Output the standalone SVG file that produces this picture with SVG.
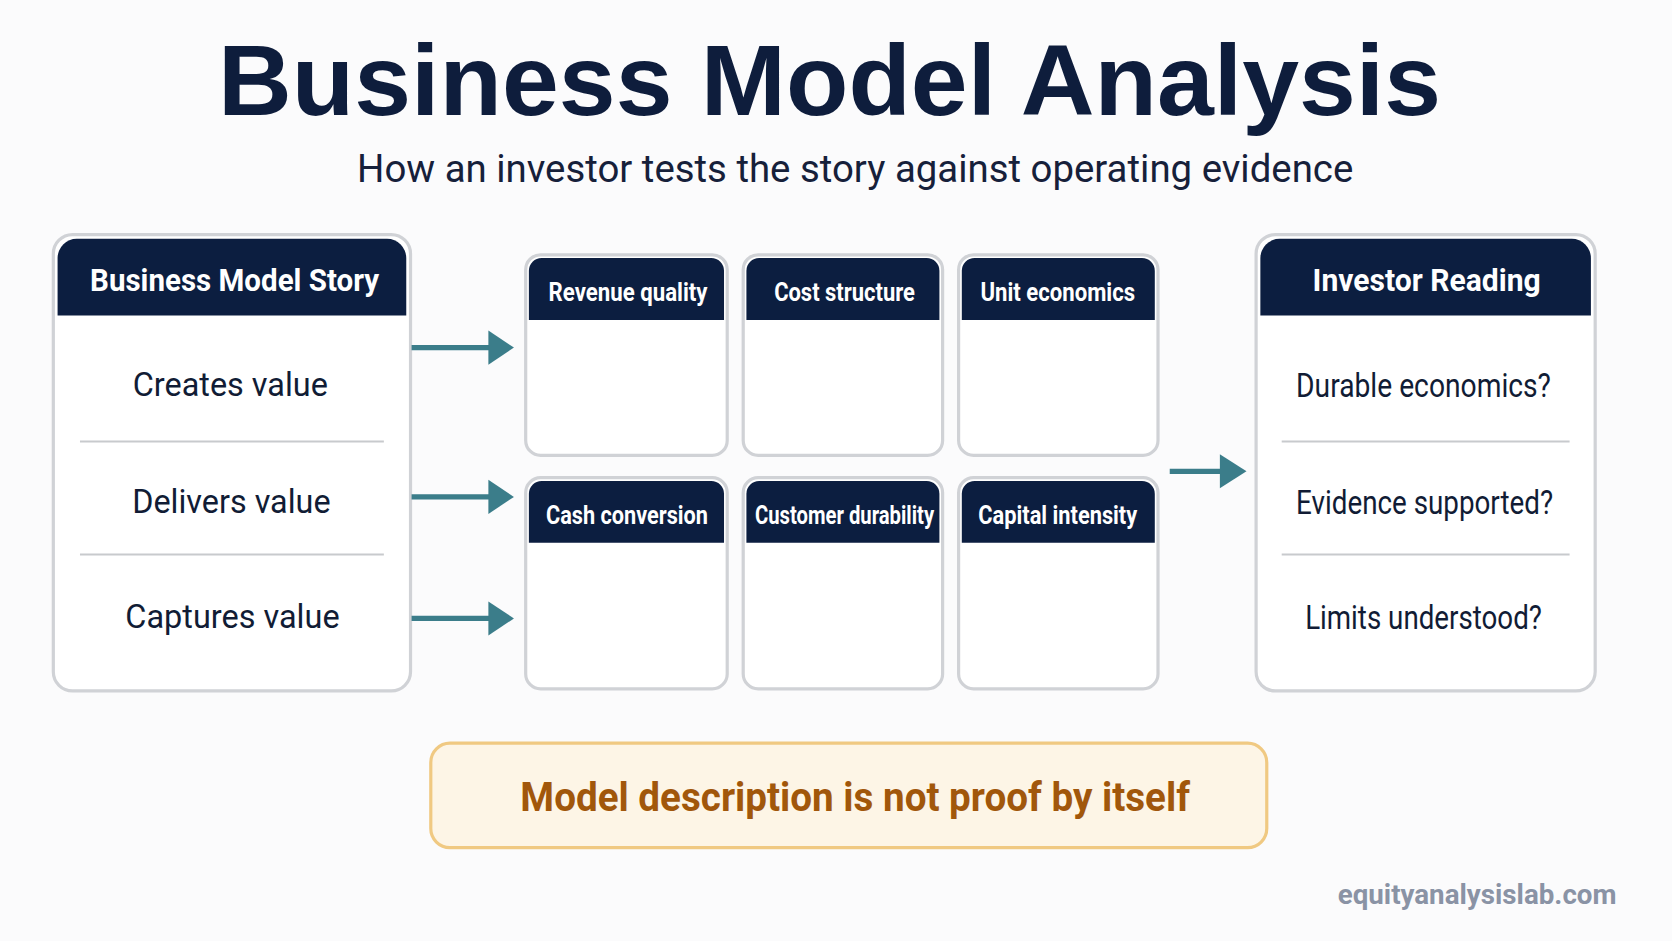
<svg xmlns="http://www.w3.org/2000/svg" width="1672" height="941" viewBox="0 0 1672 941">
<defs>
<style>
.t{font-family:"Roboto","Liberation Sans",sans-serif;}
.box{fill:#fff;stroke:#d0d2d6;stroke-width:3}
.hd{fill:#0c1e40}
.ht{fill:#fff;font-weight:bold;text-anchor:middle}
.it{fill:#111c35;text-anchor:middle;font-size:32px}
.dv{stroke:#c8cacd;stroke-width:2}
.ar{stroke:#3b7d8a;stroke-width:5;fill:none}
.ah{fill:#3b7d8a}
</style>
</defs>
<rect width="1672" height="941" fill="#fbfbfc"/>
<g transform="scale(1.0663)">
<text x="778" y="108" text-anchor="middle" font-weight="bold" font-size="94" fill="#0e1d3c" textLength="1147" lengthAdjust="spacingAndGlyphs" style="font-family:'Liberation Sans',sans-serif">Business Model Analysis</text>
<text class="t" x="802" y="171" text-anchor="middle" font-size="36" fill="#16203a">How an investor tests the story against operating evidence</text>

<g id="story" class="t">
<rect class="box" x="50" y="220" width="335" height="428" rx="18"/>
<path class="hd" d="M54,242a18,18 0 0 1 18,-18h291a18,18 0 0 1 18,18v54h-327z"/>
<text class="ht" x="220" y="273" font-size="30" textLength="271" lengthAdjust="spacingAndGlyphs">Business Model Story</text>
<text class="it" x="216" y="371" textLength="183" lengthAdjust="spacingAndGlyphs">Creates value</text>
<line class="dv" x1="75" y1="414" x2="360" y2="414"/>
<text class="it" x="217" y="481" textLength="186" lengthAdjust="spacingAndGlyphs">Delivers value</text>
<line class="dv" x1="75" y1="520" x2="360" y2="520"/>
<text class="it" x="218" y="589" textLength="201" lengthAdjust="spacingAndGlyphs">Captures value</text>
</g>

<g id="connectors">
<line class="ar" x1="386" y1="326" x2="462" y2="326"/><polygon class="ah" points="458,310 482,326 458,342"/>
<line class="ar" x1="386" y1="466" x2="462" y2="466"/><polygon class="ah" points="458,450 482,466 458,482"/>
<line class="ar" x1="386" y1="580" x2="462" y2="580"/><polygon class="ah" points="458,564 482,580 458,596"/>
<line class="ar" x1="1097" y1="442" x2="1148" y2="442"/><polygon class="ah" points="1144,426 1169,442 1144,458"/>
</g>

<g id="revenue" class="t"><rect class="box" x="493" y="239" width="189" height="188" rx="14"/><path class="hd" d="M496,254a12,12 0 0 1 12,-12h159a12,12 0 0 1 12,12v46h-183z"/><text class="ht" x="589" y="282" font-size="24" textLength="149" lengthAdjust="spacingAndGlyphs">Revenue quality</text></g>
<g id="cost" class="t"><rect class="box" x="697" y="239" width="187" height="188" rx="14"/><path class="hd" d="M700,254a12,12 0 0 1 12,-12h157a12,12 0 0 1 12,12v46h-181z"/><text class="ht" x="792" y="282" font-size="24" textLength="132" lengthAdjust="spacingAndGlyphs">Cost structure</text></g>
<g id="unit" class="t"><rect class="box" x="899" y="239" width="187" height="188" rx="14"/><path class="hd" d="M902,254a12,12 0 0 1 12,-12h157a12,12 0 0 1 12,12v46h-181z"/><text class="ht" x="992" y="282" font-size="24" textLength="145" lengthAdjust="spacingAndGlyphs">Unit economics</text></g>
<g id="cash" class="t"><rect class="box" x="493" y="448" width="189" height="198" rx="14"/><path class="hd" d="M496,463a12,12 0 0 1 12,-12h159a12,12 0 0 1 12,12v46h-183z"/><text class="ht" x="588" y="491" font-size="24" textLength="152" lengthAdjust="spacingAndGlyphs">Cash conversion</text></g>
<g id="customer" class="t"><rect class="box" x="697" y="448" width="187" height="198" rx="14"/><path class="hd" d="M700,463a12,12 0 0 1 12,-12h157a12,12 0 0 1 12,12v46h-181z"/><text class="ht" x="792" y="491" font-size="24" textLength="168" lengthAdjust="spacingAndGlyphs">Customer durability</text></g>
<g id="capital" class="t"><rect class="box" x="899" y="448" width="187" height="198" rx="14"/><path class="hd" d="M902,463a12,12 0 0 1 12,-12h157a12,12 0 0 1 12,12v46h-181z"/><text class="ht" x="992" y="491" font-size="24" textLength="149" lengthAdjust="spacingAndGlyphs">Capital intensity</text></g>

<g id="reading" class="t">
<rect class="box" x="1178" y="220" width="318" height="428" rx="18"/>
<path class="hd" d="M1182,242a18,18 0 0 1 18,-18h274a18,18 0 0 1 18,18v54h-310z"/>
<text class="ht" x="1338" y="273" font-size="30" textLength="214" lengthAdjust="spacingAndGlyphs">Investor Reading</text>
<text class="it" x="1335" y="372" font-size="30" textLength="239" lengthAdjust="spacingAndGlyphs">Durable economics?</text>
<line class="dv" x1="1202" y1="414" x2="1472" y2="414"/>
<text class="it" x="1336" y="482" font-size="30" textLength="241" lengthAdjust="spacingAndGlyphs">Evidence supported?</text>
<line class="dv" x1="1202" y1="520" x2="1472" y2="520"/>
<text class="it" x="1335" y="590" font-size="30" textLength="222" lengthAdjust="spacingAndGlyphs">Limits understood?</text>
</g>

<g id="note" class="t">
<rect x="404" y="697" width="784" height="98" rx="18" fill="#fdf5e6" stroke="#f0c982" stroke-width="3"/>
<text x="802" y="761" text-anchor="middle" font-size="38" font-weight="bold" fill="#a1570b" textLength="628" lengthAdjust="spacingAndGlyphs">Model description is not proof by itself</text>
</g>
<text class="t" x="1516" y="848" text-anchor="end" font-size="26" font-weight="bold" fill="#8a93a5">equityanalysislab.com</text>
</g>
</svg>
